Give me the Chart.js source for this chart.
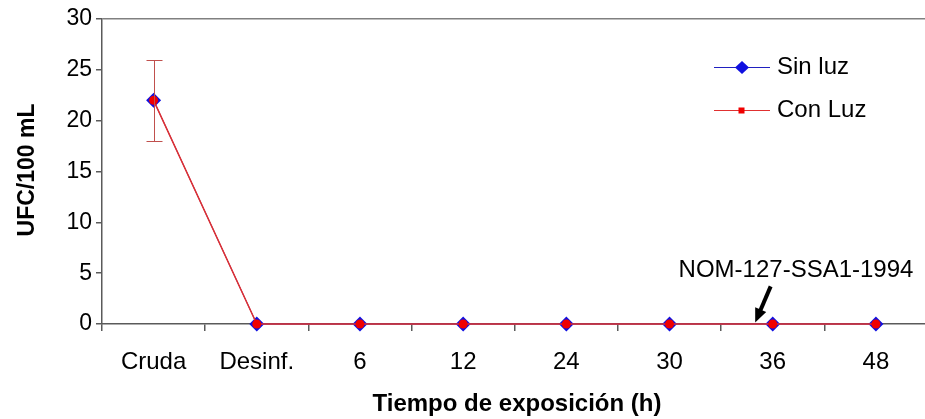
<!DOCTYPE html>
<html>
<head>
<meta charset="utf-8">
<script src="https://cdn.jsdelivr.net/npm/chart.js@4"></script>
<style>
  html, body { margin: 0; padding: 0; background: #fff; overflow: hidden; }
  #wrap { width: 935px; height: 419px; }
</style>
</head>
<body>
<div id="wrap"><canvas id="chart"></canvas></div>
<script>
// datos
const categories = ['Cruda', 'Desinf.', '6', '12', '24', '30', '36', '48'];
const sinLuz = [22, 0, 0, 0, 0, 0, 0, 0];
const conLuz = [22, 0, 0, 0, 0, 0, 0, 0];
const conLuzErr = [4, null, null, null, null, null, null, null];
const yTicks = [0, 5, 10, 15, 20, 25, 30];
const normaLabel = 'NOM-127-SSA1-1994';
// flecha de la norma, en unidades de datos (indice de categoria, UFC)
const normaArrowFrom = [5.98, 3.7];
const normaArrowTo = [5.83, 0.15];

const FONT = '"Liberation Sans", Arial, sans-serif';
const AXIS = '#5a5a5a';

// barras de error, leyenda, titulos y anotacion
const extras = {
    id: 'extras',
    afterDatasetsDraw(chart) {
        const ctx = chart.ctx;
        const x = chart.scales.x, y = chart.scales.y;
        ctx.save();

        // barras de error (Con Luz)
        ctx.strokeStyle = '#c0504d';
        ctx.lineWidth = 1;
        conLuzErr.forEach((e, i) => {
            if (e == null) return;
            const px = Math.round(x.getPixelForValue(i)) + 0.5;
            const top = Math.round(y.getPixelForValue(conLuz[i] + e)) + 0.5;
            const bot = Math.round(y.getPixelForValue(conLuz[i] - e)) + 0.5;
            ctx.beginPath();
            ctx.moveTo(px, top); ctx.lineTo(px, bot);
            ctx.moveTo(px - 8, top); ctx.lineTo(px + 8, top);
            ctx.moveTo(px - 8, bot); ctx.lineTo(px + 8, bot);
            ctx.stroke();
        });
        ctx.restore();
    },
    afterDraw(chart) {
        const ctx = chart.ctx;
        const x = chart.scales.x, y = chart.scales.y;
        ctx.save();

        // leyenda
        const rows = [67, 110];
        chart.data.datasets.forEach((ds, k) => {
            const ly = rows[k] + 0.5;
            ctx.strokeStyle = ds.borderColor;
            ctx.lineWidth = 1;
            ctx.beginPath();
            ctx.moveTo(714, ly); ctx.lineTo(770, ly);
            ctx.stroke();
            ctx.fillStyle = ds.pointBackgroundColor;
            if (ds.pointStyle === 'rectRot') {
                ctx.beginPath();
                ctx.moveTo(742, ly - 6.5); ctx.lineTo(749, ly);
                ctx.lineTo(742, ly + 6.5); ctx.lineTo(735, ly);
                ctx.closePath(); ctx.fill();
            } else {
                ctx.fillRect(738.5, ly - 3, 6, 6);
            }
            ctx.fillStyle = '#000';
            ctx.font = '24px ' + FONT;
            ctx.textAlign = 'left';
            ctx.textBaseline = 'middle';
            ctx.fillText(ds.label, 777, ly);
        });

        // anotacion de la norma
        const ax0 = x.getPixelForValue(normaArrowFrom[0]);
        const ay0 = y.getPixelForValue(normaArrowFrom[1]);
        const ax1 = x.getPixelForValue(normaArrowTo[0]);
        const ay1 = y.getPixelForValue(normaArrowTo[1]);
        const ang = Math.atan2(ay1 - ay0, ax1 - ax0);
        ctx.strokeStyle = '#000';
        ctx.fillStyle = '#000';
        ctx.lineWidth = 4;
        ctx.beginPath();
        ctx.moveTo(ax0, ay0);
        ctx.lineTo(ax1 - 9 * Math.cos(ang), ay1 - 9 * Math.sin(ang));
        ctx.stroke();
        ctx.beginPath();
        ctx.moveTo(ax1, ay1);
        ctx.lineTo(ax1 - 14 * Math.cos(ang) + 6 * Math.sin(ang), ay1 - 14 * Math.sin(ang) - 6 * Math.cos(ang));
        ctx.lineTo(ax1 - 14 * Math.cos(ang) - 6 * Math.sin(ang), ay1 - 14 * Math.sin(ang) + 6 * Math.cos(ang));
        ctx.closePath();
        ctx.fill();
        ctx.font = '24px ' + FONT;
        ctx.textAlign = 'center';
        ctx.textBaseline = 'middle';
        ctx.fillText(normaLabel, 796, 270);

        // titulos de ejes
        ctx.font = 'bold 24px ' + FONT;
        ctx.fillText('Tiempo de exposición (h)', 517, 404);
        ctx.translate(28, 170);
        ctx.rotate(-Math.PI / 2);
        ctx.font = 'bold 23px ' + FONT;
        ctx.fillText('UFC/100 mL', 0, 0);
        ctx.restore();
    }
};

new Chart(document.getElementById('chart'), {
    type: 'line',
    data: {
        labels: categories,
        datasets: [
            {
                label: 'Sin luz',
                data: sinLuz,
                borderColor: '#2020c0',
                backgroundColor: '#1010e0',
                pointBackgroundColor: '#1010e0',
                pointBorderColor: '#1010e0',
                pointStyle: 'rectRot',
                pointRadius: 7.5,
                pointBorderWidth: 0,
                borderWidth: 1,
                tension: 0,
                clip: false,
                order: 1
            },
            {
                label: 'Con Luz',
                data: conLuz,
                borderColor: '#e03030',
                backgroundColor: '#f00000',
                pointBackgroundColor: '#f00000',
                pointBorderColor: '#f00000',
                pointStyle: 'circle',
                pointRadius: 4.5,
                pointBorderWidth: 0,
                borderWidth: 1.5,
                tension: 0,
                clip: false,
                order: 0
            }
        ]
    },
    options: {
        responsive: true,
        maintainAspectRatio: false,
        animation: false,
        layout: { padding: { left: 0, right: 1, top: 19, bottom: 0 } },
        plugins: {
            legend: { display: false },
            tooltip: { enabled: false }
        },
        scales: {
            x: {
                offset: true,
                grid: {
                    offset: true,
                    drawOnChartArea: false,
                    tickLength: 7,
                    tickColor: AXIS,
                    lineWidth: 1.5
                },
                border: { color: AXIS, width: 1.5 },
                ticks: {
                    color: '#000',
                    font: { family: FONT, size: 24 },
                    padding: 17,
                    maxRotation: 0,
                    autoSkip: false
                },
                afterFit(scale) { scale.height = 95; }
            },
            y: {
                min: 0,
                max: 30,
                afterBuildTicks(scale) { scale.ticks = yTicks.map(v => ({ value: v })); },
                grid: {
                    color: ctx => ctx.tick && ctx.tick.value === 30 ? '#808080' : 'rgba(0,0,0,0)',
                    lineWidth: 1.5,
                    tickLength: 6,
                    tickColor: AXIS
                },
                border: { color: AXIS, width: 1.5 },
                ticks: {
                    color: '#000',
                    font: { family: FONT, size: 23 },
                    padding: 4
                },
                afterFit(scale) { scale.width = 102; }
            }
        }
    },
    plugins: [extras]
});
</script>
</body>
</html>
